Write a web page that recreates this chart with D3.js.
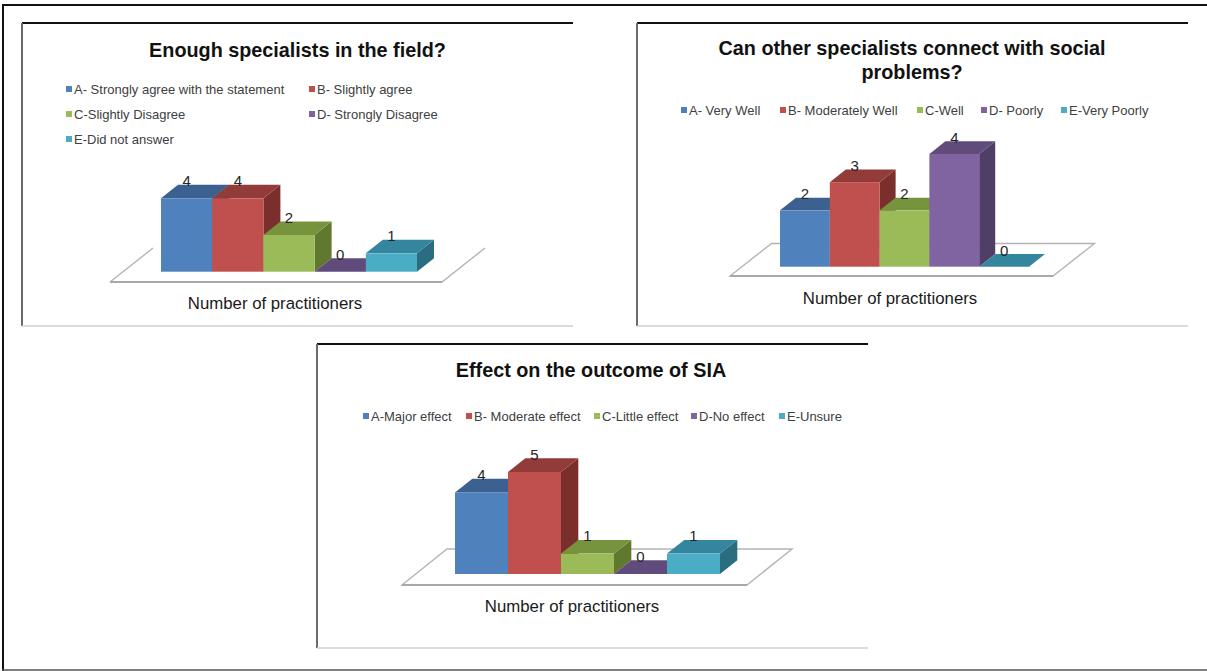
<!DOCTYPE html>
<html>
<head>
<meta charset="utf-8">
<script src="https://cdn.jsdelivr.net/npm/d3@7"></script>
<style>
  html, body { margin: 0; padding: 0; background: #fff; }
  svg { display: block; font-family: "Liberation Sans", Arial, sans-serif; }
</style>
</head>
<body>
<svg id="fig" width="1207" height="671"></svg>
<script>
// ---- Survey answers (number of practitioners per response) ----
const specialistsTitle = ["Enough specialists in the field?"];
const specialistsCategories = ["A- Strongly agree with the statement", "B- Slightly agree", "C-Slightly Disagree", "D- Strongly Disagree", "E-Did not answer"];
const specialistsValues = [4, 4, 2, 0, 1];

const connectTitle = ["Can other specialists connect with social", "problems?"];
const connectCategories = ["A- Very Well", "B- Moderately Well", "C-Well", "D- Poorly", "E-Very Poorly"];
const connectValues = [2, 3, 2, 4, 0];

const effectTitle = ["Effect on the outcome of SIA"];
const effectCategories = ["A-Major effect", "B- Moderate effect", "C-Little effect", "D-No effect", "E-Unsure"];
const effectValues = [4, 5, 1, 0, 1];

const axisTitle = "Number of practitioners";

// ---- Palette: front, top and side shades of each series ----
const frontColors = ["#4f81bd", "#c0504d", "#9bbb59", "#8064a2", "#4bacc6"];
const topColors   = ["#3c6191", "#923b39", "#77933d", "#604b7c", "#33869d"];
const sideColors  = ["#2f4d72", "#7a2f2d", "#61792f", "#4f3e66", "#2a6d80"];

const svg = d3.select("#fig");
svg.append("rect").attr("width", 1207).attr("height", 671).attr("fill", "#fff");

// outer page frame
const outer = svg.append("g").attr("fill", "none");
outer.append("line").attr("x1", 3).attr("x2", 3).attr("y1", 4).attr("y2", 671).attr("stroke", "#111").attr("stroke-width", 2);
outer.append("line").attr("x1", 2).attr("x2", 1207).attr("y1", 5).attr("y2", 5).attr("stroke", "#111").attr("stroke-width", 2);
outer.append("line").attr("x1", 2).attr("x2", 1207).attr("y1", 670).attr("y2", 670).attr("stroke", "#555").attr("stroke-width", 1.5);

function drawChart(cfg) {
  const g = svg.append("g");
  const f = cfg.frame;

  // chart area frame: dark top, grey left, light bottom
  g.append("line").attr("x1", f.x).attr("x2", f.x2).attr("y1", f.y).attr("y2", f.y)
    .attr("stroke", "#111").attr("stroke-width", 2);
  g.append("line").attr("x1", f.x).attr("x2", f.x).attr("y1", f.y).attr("y2", f.y2)
    .attr("stroke", "#6a6a6a").attr("stroke-width", 2);
  g.append("line").attr("x1", f.x).attr("x2", f.x2).attr("y1", f.y2).attr("y2", f.y2)
    .attr("stroke", "#cfcfcf").attr("stroke-width", 1.5);

  // title
  const t = g.append("text").attr("text-anchor", "middle")
    .attr("font-size", 19.8).attr("font-weight", "bold").attr("fill", "#111");
  cfg.title.forEach((line, i) => {
    t.append("tspan").attr("x", cfg.titleX).attr("y", cfg.titleY + i * 24).text(line);
  });

  // legend
  const leg = g.append("g");
  cfg.categories.forEach((c, i) => {
    const p = cfg.legendPos[i];
    leg.append("rect").attr("x", p[0]).attr("y", p[1] - 3).attr("width", 6).attr("height", 6)
      .attr("fill", frontColors[i]);
    leg.append("text").attr("x", p[0] + 8).attr("y", p[1] + 4.5)
      .attr("font-size", 13).attr("fill", "#404040").text(c);
  });

  // floor of the 3-D plot
  const fl = cfg.floor;
  const floorPts = [
    [fl.x, fl.y], [fl.x + fl.w, fl.y],
    [fl.x + fl.w + fl.dx, fl.y - fl.dy], [fl.x + fl.dx, fl.y - fl.dy]
  ];
  g.append("path")
    .attr("d", `M${floorPts[0]}L${floorPts[1]}L${floorPts[2]}` + (fl.back ? `L${floorPts[3]}Z` : `M${floorPts[3]}L${floorPts[0]}`))
    .attr("fill", "#fff").attr("stroke", "#b4b4b4").attr("stroke-width", 1.4);
  g.append("line").attr("x1", floorPts[0][0]).attr("x2", floorPts[1][0])
    .attr("y1", fl.y).attr("y2", fl.y).attr("stroke", "#a8a8a8").attr("stroke-width", 2);

  // scales
  const x = d3.scaleBand().domain(cfg.categories).range(cfg.xRange).padding(0);
  const y = d3.scaleLinear().domain([0, cfg.yMax]).range(cfg.yRange);
  const w = x.bandwidth();
  const dx = cfg.depth[0], dy = cfg.depth[1];
  const base = y(0);

  const bars = g.append("g");
  cfg.values.forEach((v, i) => {
    const x0 = x(cfg.categories[i]);
    const yt = y(v);
    const bg = bars.append("g");
    if (v > 0) {
      bg.append("path")
        .attr("d", `M${x0 + w},${yt}L${x0 + w + dx},${yt - dy}L${x0 + w + dx},${base - dy}L${x0 + w},${base}Z`)
        .attr("fill", sideColors[i]);
    }
    bg.append("path")
      .attr("d", `M${x0},${yt}L${x0 + w},${yt}L${x0 + w + dx},${yt - dy}L${x0 + dx},${yt - dy}Z`)
      .attr("fill", topColors[i]);
    if (v > 0) {
      bg.append("rect").attr("x", x0).attr("y", yt).attr("width", w).attr("height", base - yt)
        .attr("fill", frontColors[i]);
    }
  });

  // value labels
  cfg.values.forEach((v, i) => {
    g.append("text").attr("text-anchor", "middle")
      .attr("x", x(cfg.categories[i]) + w / 2)
      .attr("y", y(v) - dy + 1.5)
      .attr("font-size", 15).attr("fill", "#262626").text(v);
  });

  // axis title
  g.append("text").attr("text-anchor", "middle").attr("x", cfg.axisX).attr("y", cfg.axisY)
    .attr("font-size", 16.8).attr("fill", "#1a1a1a").text(axisTitle);
}

drawChart({
  frame: { x: 22, y: 23, x2: 573, y2: 326 },
  title: specialistsTitle, titleX: 297.5, titleY: 56.5,
  categories: specialistsCategories, values: specialistsValues,
  legendPos: [[66, 89], [309, 89], [66, 114], [309, 114], [66, 139]],
  floor: { x: 110, y: 282, w: 332, dx: 43, dy: 34, back: false },
  xRange: [161, 417], yMax: 4, yRange: [271.7, 198.3], depth: [17, 13.5],
  axisX: 275, axisY: 309
});

drawChart({
  frame: { x: 637, y: 23, x2: 1188, y2: 326 },
  title: connectTitle, titleX: 912, titleY: 55,
  categories: connectCategories, values: connectValues,
  legendPos: [[681, 110], [780, 110], [917, 110], [981, 110], [1061, 110]],
  floor: { x: 730, y: 276, w: 323, dx: 41.5, dy: 32.5, back: true },
  xRange: [780, 1029], yMax: 4, yRange: [266.7, 154], depth: [16, 12.7],
  axisX: 890, axisY: 304
});

drawChart({
  frame: { x: 317, y: 344, x2: 868, y2: 648 },
  title: effectTitle, titleX: 591, titleY: 377,
  categories: effectCategories, values: effectValues,
  legendPos: [[363, 416], [466, 416], [594, 416], [691, 416], [779, 416]],
  floor: { x: 402, y: 585, w: 345, dx: 45, dy: 36, back: true },
  xRange: [455, 720], yMax: 5, yRange: [574, 472], depth: [17.3, 13.7],
  axisX: 572, axisY: 612
});
</script>
</body>
</html>
